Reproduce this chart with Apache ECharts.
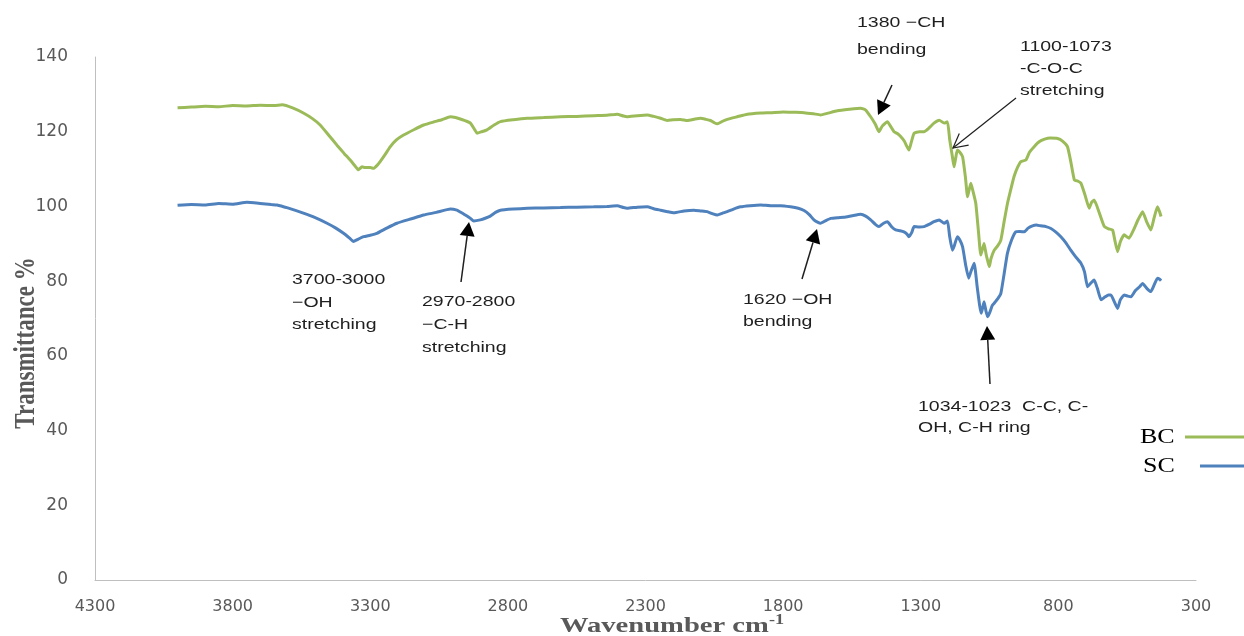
<!DOCTYPE html>
<html>
<head>
<meta charset="utf-8">
<script src="https://cdn.jsdelivr.net/npm/echarts@6/dist/echarts.min.js"></script>
<style>html,body{margin:0;padding:0;background:#fff}#c{width:1244px;height:636px}</style>
</head>
<body>
<div id="c"></div>
<script>
// ---------- data ----------
const seriesNames = ['BC', 'SC'];
const xTicks = [4300, 3800, 3300, 2800, 2300, 1800, 1300, 800, 300];
const yTicks = [0, 20, 40, 60, 80, 100, 120, 140];

const bcWn = [4000,3950,3900,3850,3800,3750,3700,3650,3620,3580,3543,3510,3482,3450,3421,3395,3373,3355,3343,3330,3318,3300,3288,3275,3264,3245,3227,3205,3179,3140,3106,3070,3040,3009,2990,2973,2950,2936,2920,2912,2895,2876,2850,2827,2780,2730,2670,2609,2550,2488,2440,2403,2380,2367,2330,2294,2270,2245,2221,2200,2173,2148,2120,2100,2080,2064,2050,2039,2020,2003,1967,1930,1880,1845,1800,1760,1724,1690,1664,1640,1603,1560,1518,1500,1482,1465,1452,1440,1421,1410,1397,1385,1373,1360,1350,1343,1335,1324,1305,1288,1270,1252,1233,1215,1203,1195,1185,1179,1173,1167,1158,1148,1138,1130,1124,1118,1110,1100,1090,1082,1076,1070,1062,1057,1051,1045,1033,1020,1009,997,985,973,961,948,936,918,905,888,870,850,830,803,785,767,755,742,730,718,703,688,680,670,650,633,618,603,595,585,575,561,550,543,525,510,494,480,464,452,440,432,427];
const bcVal = [126.4,126.6,126.8,126.7,127.0,126.9,127.1,127.0,127.2,126.3,125.0,123.5,121.8,119.0,116.4,114.2,112.4,110.8,109.8,110.6,110.4,110.4,110.2,111.0,112.0,114.0,116.0,117.8,119.1,120.6,121.8,122.6,123.2,124.0,123.8,123.4,122.8,122.3,120.5,119.6,120.0,120.5,121.8,122.7,123.2,123.6,123.8,124.0,124.1,124.3,124.4,124.7,124.2,124.0,124.3,124.5,124.1,123.6,123.0,123.2,123.3,123.0,123.4,123.6,123.3,123.0,122.4,122.1,122.8,123.3,124.0,124.7,125.0,125.1,125.3,125.2,125.1,124.8,124.5,124.9,125.6,126.0,126.3,125.8,124.0,122.0,120.0,121.5,122.7,121.5,120.0,119.5,118.7,117.5,116.0,115.1,117.0,119.6,120.0,120.0,121.0,122.3,123.1,122.3,122.7,118.0,113.3,110.6,113.0,115.1,114.5,113.3,108.0,102.6,104.5,106.2,104.0,100.8,93.0,87.0,88.5,90.1,87.0,85.5,83.9,86.0,88.3,89.5,91.0,96.0,100.8,104.5,108.0,110.5,112.0,112.4,114.5,116.0,117.3,118.0,118.3,118.2,117.5,116.0,112.0,107.1,106.8,106.2,103.0,99.5,101.0,101.7,98.0,94.6,94.0,93.7,91.0,87.9,90.5,92.4,91.8,91.5,94.0,96.5,98.6,96.0,93.7,97.0,99.9,98.5,97.3];

const scWn = [4000,3950,3900,3850,3800,3748,3700,3660,3639,3600,3543,3500,3457,3425,3397,3375,3361,3345,3324,3300,3276,3240,3203,3150,3106,3060,3009,2985,2973,2950,2936,2924,2900,2880,2864,2845,2827,2780,2730,2670,2609,2550,2488,2440,2403,2380,2367,2330,2294,2270,2245,2220,2197,2160,2124,2100,2076,2055,2039,2020,2003,1980,1955,1920,1882,1845,1809,1773,1745,1724,1705,1688,1675,1664,1645,1627,1600,1579,1550,1518,1500,1482,1465,1452,1435,1421,1405,1391,1375,1361,1350,1343,1333,1324,1305,1288,1270,1252,1233,1215,1203,1195,1185,1178,1167,1158,1148,1136,1126,1118,1106,1095,1086,1080,1070,1063,1057,1050,1040,1033,1020,1009,997,985,970,955,940,924,910,894,880,864,845,827,810,791,772,755,737,718,705,694,682,670,658,645,630,618,609,597,585,575,561,548,536,520,505,494,478,464,452,440,432,427];
const scVal = [100.3,100.5,100.4,100.8,100.6,101.1,100.8,100.5,100.4,99.6,98.2,97.0,95.5,94.2,92.8,91.5,90.6,91.2,91.9,92.3,92.8,94.2,95.5,96.7,97.7,98.4,99.3,99.0,98.5,97.5,96.8,96.1,96.4,96.9,97.4,98.4,99.0,99.3,99.5,99.6,99.7,99.8,99.9,100.0,100.2,99.7,99.5,99.8,99.9,99.4,99.0,98.6,98.3,98.8,99.0,98.8,98.6,98.0,97.7,98.2,98.6,99.3,99.9,100.2,100.4,100.2,100.2,99.9,99.5,98.9,97.8,96.4,95.8,95.5,96.2,96.8,97.0,97.1,97.5,97.9,97.4,96.4,95.2,94.6,95.5,95.9,94.5,93.7,93.5,93.2,92.6,91.9,93.0,94.6,94.5,94.6,95.2,95.9,96.4,95.5,96.1,92.0,88.3,89.5,91.9,91.0,89.2,84.0,80.8,82.5,84.8,78.5,73.5,71.4,74.5,72.0,70.5,71.5,73.5,74.1,75.3,76.7,82.0,87.5,91.0,93.2,93.3,93.2,94.2,94.8,95.0,94.8,94.6,94.1,93.2,91.9,90.2,88.3,86.5,84.8,82.5,78.5,79.5,80.3,78.0,75.0,75.8,76.3,76.3,74.5,72.7,75.0,76.3,76.0,75.8,77.5,78.5,79.4,78.0,77.2,79.0,80.8,80.5,80.1];

const notes = [
  { text: '1380 \u2212CH\nbending', x: 857, y: 9, lh: 27 },
  { text: '1100-1073\n-C-O-C\nstretching', x: 1020, y: 36, lh: 22 },
  { text: '3700-3000\n\u2212OH\nstretching', x: 292, y: 269, lh: 22.5 },
  { text: '2970-2800\n\u2212C-H\nstretching', x: 422, y: 290.5, lh: 23 },
  { text: '1620 \u2212OH\nbending', x: 743, y: 289, lh: 22 },
  { text: '1034-1023  C-C, C-\nOH, C-H ring', x: 918, y: 396.5, lh: 21 }
];
const arrows = [
  { x1: 892, y1: 85, x2: 878, y2: 115, open: false },
  { x1: 1016, y1: 98, x2: 953, y2: 148, open: true },
  { x1: 461, y1: 282, x2: 469, y2: 222, open: false },
  { x1: 802, y1: 279, x2: 817, y2: 229, open: false },
  { x1: 990, y1: 384, x2: 987, y2: 326, open: false }
];

// ---------- build ----------
const GREEN = '#9BBB59', BLUE = '#4F81BD';
const zip = (a, b) => a.map((v, i) => [v, b[i]]);

const graphics = [];
notes.forEach(n => {
  graphics.push({
    type: 'text', x: n.x, y: n.y, scaleX: 1.3, z: 100,
    style: { text: n.text, fontFamily: 'Liberation Sans, Arial, sans-serif', fontSize: 15,
      lineHeight: n.lh, fill: '#1f1f1f', textAlign: 'left', textVerticalAlign: 'top' }
  });
});
arrows.forEach(a => {
  const dx = a.x2 - a.x1, dy = a.y2 - a.y1, L = Math.hypot(dx, dy);
  const ux = dx / L, uy = dy / L, px = -uy, py = ux;
  const hl = 14, hw = 7.5;
  const bx = a.x2 - ux * hl, by = a.y2 - uy * hl;
  if (a.open) {
    graphics.push({ type: 'line', z: 100, shape: { x1: a.x1, y1: a.y1, x2: a.x2, y2: a.y2 }, style: { stroke: '#1f1f1f', lineWidth: 1.2 } });
    graphics.push({ type: 'polyline', z: 100, shape: { points: [[bx + px * hw, by + py * hw], [a.x2, a.y2], [bx - px * hw, by - py * hw]] }, style: { stroke: '#1f1f1f', lineWidth: 1.2, fill: null } });
  } else {
    graphics.push({ type: 'line', z: 100, shape: { x1: a.x1, y1: a.y1, x2: bx, y2: by }, style: { stroke: '#1f1f1f', lineWidth: 1.5 } });
    graphics.push({ type: 'polygon', z: 100, shape: { points: [[a.x2, a.y2], [bx + px * hw, by + py * hw], [bx - px * hw, by - py * hw]] }, style: { fill: '#000' } });
  }
});
// axis titles
graphics.push({
  type: 'text', x: 26, y: 343, rotation: Math.PI / 2, scaleY: 1.3, z: 100,
  style: { text: 'Transmittance %', fontFamily: 'Liberation Serif, Times New Roman, serif', fontWeight: 'bold',
    fontSize: 23, fill: '#595959', textAlign: 'center', textVerticalAlign: 'middle' }
});
graphics.push({
  type: 'text', x: 672, y: 626, scaleX: 1.3, z: 100,
  style: { text: '{a|Wavenumber cm}{b|-1}', textAlign: 'center', textVerticalAlign: 'middle',
    rich: {
      a: { fontFamily: 'Liberation Serif, serif', fontWeight: 'bold', fontSize: 22, lineHeight: 26, fill: '#595959' },
      b: { fontFamily: 'Liberation Serif, serif', fontWeight: 'bold', fontSize: 14, lineHeight: 14, verticalAlign: 'top', fill: '#595959' }
    } }
});
// legend
graphics.push({ type: 'text', x: 1140, y: 438, scaleX: 1.3, z: 100,
  style: { text: seriesNames[0], fontFamily: 'Liberation Serif, serif', fontSize: 20, fill: '#000', textAlign: 'left', textVerticalAlign: 'middle' } });
graphics.push({ type: 'line', z: 100, shape: { x1: 1185, y1: 437, x2: 1244, y2: 437 }, style: { stroke: GREEN, lineWidth: 3 } });
graphics.push({ type: 'text', x: 1143, y: 467, scaleX: 1.3, z: 100,
  style: { text: seriesNames[1], fontFamily: 'Liberation Serif, serif', fontSize: 20, fill: '#000', textAlign: 'left', textVerticalAlign: 'middle' } });
graphics.push({ type: 'line', z: 100, shape: { x1: 1200, y1: 466, x2: 1244, y2: 466 }, style: { stroke: BLUE, lineWidth: 3 } });

const chart = echarts.init(document.getElementById('c'), null, { renderer: 'canvas' });
chart.setOption({
  animation: false,
  backgroundColor: '#fff',
  grid: { left: 95, right: 48, top: 57, bottom: 56 },
  xAxis: {
    type: 'value', inverse: true, min: 300, max: 4300, interval: 500,
    axisLine: { show: true, lineStyle: { color: '#BFBFBF', width: 1 } },
    axisTick: { show: false }, splitLine: { show: false },
    axisLabel: { customValues: xTicks, margin: 19, color: '#595959', fontFamily: 'DejaVu Sans, sans-serif', fontSize: 16,
      showMinLabel: true, showMaxLabel: true, formatter: v => String(v) }
  },
  yAxis: {
    type: 'value', min: 0, max: 140, interval: 20,
    axisLine: { show: true, lineStyle: { color: '#BFBFBF', width: 1 } },
    axisTick: { show: false }, splitLine: { show: false },
    axisLabel: { customValues: yTicks, margin: 27, color: '#595959', fontFamily: 'DejaVu Sans, sans-serif', fontSize: 17,
      formatter: v => String(v) }
  },
  series: [
    { name: seriesNames[0], type: 'line', data: zip(bcWn, bcVal), showSymbol: false, smooth: 0.15,
      lineStyle: { color: GREEN, width: 3 }, itemStyle: { color: GREEN } },
    { name: seriesNames[1], type: 'line', data: zip(scWn, scVal), showSymbol: false, smooth: 0.15,
      lineStyle: { color: BLUE, width: 3 }, itemStyle: { color: BLUE } }
  ],
  graphic: graphics
});
</script>
</body>
</html>
